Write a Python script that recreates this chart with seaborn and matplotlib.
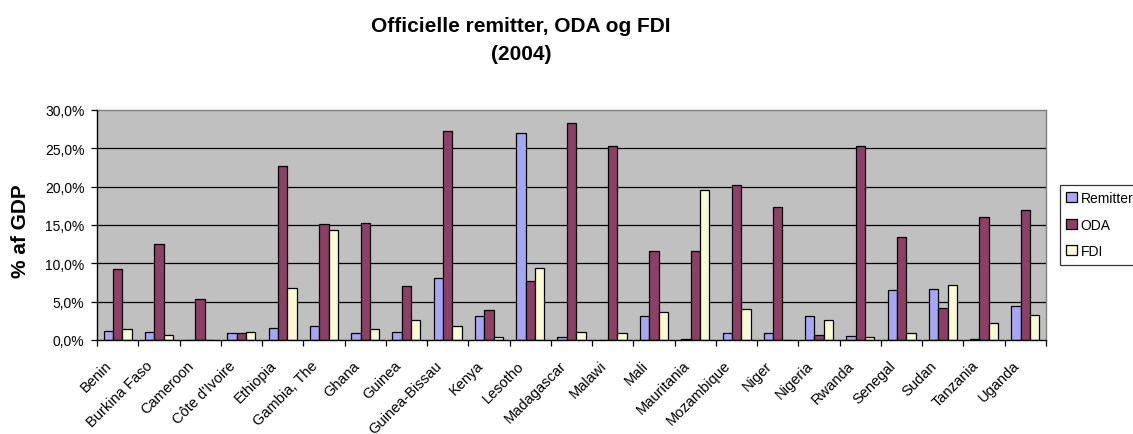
import matplotlib
matplotlib.use("Agg")
import matplotlib.pyplot as plt
import matplotlib.transforms as mtransforms
import seaborn as sns
import pandas as pd
from matplotlib.ticker import FuncFormatter, FixedLocator

countries = ["Benin", "Burkina Faso", "Cameroon", "Côte d'Ivoire", "Ethiopia",
             "Gambia, The", "Ghana", "Guinea", "Guinea-Bissau", "Kenya", "Lesotho",
             "Madagascar", "Malawi", "Mali", "Mauritania", "Mozambique", "Niger",
             "Nigeria", "Rwanda", "Senegal", "Sudan", "Tanzania", "Uganda"]
remitter = [1.2, 1.0, 0.0, 0.9, 1.6, 1.8, 0.9, 1.0, 8.1, 3.1, 27.0, 0.35, 0.0,
            3.1, 0.17, 0.9, 0.9, 3.1, 0.5, 6.5, 6.6, 0.17, 4.4]
oda = [9.2, 12.5, 5.3, 0.9, 22.7, 15.1, 15.3, 7.1, 27.2, 3.9, 7.7, 28.3, 25.3,
       11.6, 11.6, 20.2, 17.4, 0.65, 25.3, 13.5, 4.2, 16.1, 17.0]
fdi = [1.4, 0.65, 0.0, 1.05, 6.8, 14.4, 1.4, 2.6, 1.8, 0.35, 9.4, 1.05, 0.9,
       3.65, 19.6, 4.05, 0.0, 2.6, 0.35, 0.9, 7.2, 2.2, 3.3]
series_names = ["Remitter", "ODA", "FDI"]
colors = ["#9999FF", "#993366", "#FFFFCC"]

rows = []
for name, vals in zip(series_names, [remitter, oda, fdi]):
    for c, v in zip(countries, vals):
        rows.append({"Country": c, "Serie": name, "Value": v})
df = pd.DataFrame(rows)

sns.set_style("white")
plt.rcParams["font.family"] = ["Liberation Sans", "DejaVu Sans"]
for k in ["text.color", "axes.labelcolor", "xtick.color", "ytick.color"]:
    plt.rcParams[k] = "black"

W, H = 1133, 435
fig = plt.figure(figsize=(W / 100, H / 100), dpi=100)
ax = fig.add_axes([97 / W, 1 - 341 / H, (1046 - 97) / W, (341 - 111) / H])
ax.set_facecolor("#C0C0C0")

sns.barplot(data=df, x="Country", y="Value", hue="Serie", order=countries,
            hue_order=series_names, palette=colors, width=0.68,
            edgecolor="black", linewidth=0.9, ax=ax, legend=True, zorder=3)

ax.set_ylim(0, 30)
ax.set_xlim(-0.5, len(countries) - 0.5)
ax.set_yticks([0, 5, 10, 15, 20, 25, 30])
ax.yaxis.set_major_formatter(FuncFormatter(lambda v, p: f"{v:.1f}%".replace(".", ",")))
for y in [5, 10, 15, 20, 25]:
    ax.axhline(y, color="black", linewidth=0.9, zorder=1)

ax.set_xlabel("")
ax.set_ylabel("")
ax.xaxis.set_minor_locator(FixedLocator([i - 0.5 for i in range(len(countries) + 1)]))
ax.tick_params(axis="x", which="major", length=0, pad=16.5)
ax.tick_params(axis="x", which="minor", length=4, width=0.9, color="black", direction="out", bottom=True)
ax.tick_params(axis="y", length=4, width=0.9, color="black", direction="out", left=True, pad=5,
               labelsize=10)
offset = mtransforms.ScaledTranslation(-8 / 100, 0, fig.dpi_scale_trans)
for lab in ax.get_xticklabels():
    lab.set_rotation(45)
    lab.set_ha("right")
    lab.set_va("center")
    lab.set_rotation_mode("anchor")
    lab.set_fontsize(10.5)
    lab.set_color("black")
    lab.set_transform(lab.get_transform() + offset)

for side in ["left", "bottom"]:
    ax.spines[side].set_color("black")
    ax.spines[side].set_linewidth(1.0)
    ax.spines[side].set_visible(True)
for side in ["top", "right"]:
    ax.spines[side].set_color("#808080")
    ax.spines[side].set_linewidth(1.0)
    ax.spines[side].set_visible(True)
ax.spines["left"].set_zorder(5)
ax.spines["bottom"].set_zorder(5)

handles, labels = ax.get_legend_handles_labels()
ax.get_legend().remove()
leg = fig.legend(handles, labels, loc="upper left",
                 bbox_to_anchor=(1060 / W, 1 - 186 / H), bbox_transform=fig.transFigure,
                 borderaxespad=0, fontsize=10, handlelength=0.75, handleheight=0.75,
                 handletextpad=0.3, labelspacing=0.9, borderpad=0.45,
                 frameon=True, fancybox=False, edgecolor="black")
leg.get_frame().set_linewidth(0.9)
for t in leg.get_texts():
    t.set_color("black")
for h in leg.legend_handles:
    h.set_edgecolor("black")
    h.set_linewidth(0.9)

fig.text(521 / W, 1 - 40 / H, "Officielle remitter, ODA og FDI\n(2004)",
         ha="center", va="center", fontsize=15, fontweight="bold", linespacing=1.6,
         color="black")
fig.text(21 / W, 1 - 231 / H, "% af GDP", ha="center", va="center", rotation=90,
         fontsize=15, fontweight="bold", color="black")

fig.savefig("out.png", dpi=100, facecolor="white")
